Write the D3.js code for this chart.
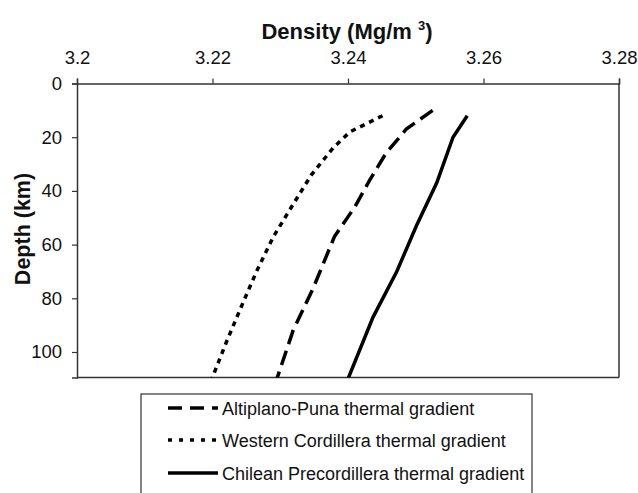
<!DOCTYPE html>
<html><head><meta charset="utf-8">
<script src="https://cdn.jsdelivr.net/npm/d3@7"></script>
<style>body{margin:0;background:#fff;}svg{display:block;font-family:"Liberation Sans",Arial,sans-serif;}</style>
</head><body>
<svg id="c" width="638" height="493"></svg>
<script>
const xTicks = [3.2, 3.22, 3.24, 3.26, 3.28];
const yTicks = [0, 20, 40, 60, 80, 100];
const seriesNames = ["Altiplano-Puna thermal gradient", "Western Cordillera thermal gradient", "Chilean Precordillera thermal gradient"];
const altiplanoDepth = [10, 17, 26, 36, 46, 57, 76, 92, 110];
const altiplanoDensity = [3.2525, 3.2486, 3.2456, 3.2432, 3.2410, 3.2380, 3.2349, 3.2319, 3.2295];
const westernDepth = [12, 18, 24, 34, 45, 57, 70, 84, 96, 110];
const westernDensity = [3.2451, 3.2403, 3.2378, 3.2346, 3.2319, 3.2290, 3.2265, 3.2241, 3.2221, 3.2199];
const chileanDepth = [12, 20, 37, 53, 70, 87, 110];
const chileanDensity = [3.2576, 3.2555, 3.2531, 3.2501, 3.2472, 3.2437, 3.2400];

const svg = d3.select("#c");
const L = 77, R = 619, T = 83.5, B = 377.5;
const x = d3.scaleLinear().domain([3.2, 3.28]).range([L, R]);
const y = d3.scaleLinear().domain([0, 109.5]).range([T, B]);

svg.append("defs").append("clipPath").attr("id","clip")
  .append("rect").attr("x", L).attr("y", T).attr("width", R-L).attr("height", B-T);

const axColor = "#333";
const xAxis = svg.append("g").attr("transform", `translate(0,${T})`)
  .call(d3.axisTop(x).tickValues(xTicks).tickFormat(d3.format("")).tickSize(5).tickPadding(15));
const yAxis = svg.append("g").attr("transform", `translate(${L},0)`)
  .call(d3.axisLeft(y).tickValues(yTicks).tickSize(5).tickPadding(10));
[xAxis, yAxis].forEach(g => {
  g.selectAll("path").attr("stroke", axColor).attr("stroke-width", 1.5);
  g.selectAll("line").attr("stroke", axColor).attr("stroke-width", 1.2);
  g.selectAll("text").attr("font-size", 18.5).attr("fill", "#111").attr("font-family", "Liberation Sans, Arial, sans-serif");
});
xAxis.selectAll("text").attr("dy", 0);
// frame right and bottom
svg.append("line").attr("x1", R).attr("x2", R).attr("y1", T).attr("y2", B).attr("stroke", axColor).attr("stroke-width", 1.5);
svg.append("line").attr("x1", L).attr("x2", R).attr("y1", B).attr("y2", B).attr("stroke", axColor).attr("stroke-width", 1.5);

// titles
const title = svg.append("text").attr("x", 347).attr("y", 39).attr("text-anchor", "middle")
  .attr("font-size", 22).attr("font-weight", "bold").attr("fill", "#111");
title.append("tspan").text("Density (Mg/m ");
title.append("tspan").text("3").attr("font-size", 13).attr("dy", -9);
title.append("tspan").text(")").attr("dy", 9);

svg.append("text").attr("transform", `translate(29.5,229) rotate(-90)`).attr("text-anchor", "middle")
  .attr("font-size", 21.5).attr("font-weight", "bold").attr("fill", "#111").text("Depth (km)");

const series = [
  {depth: altiplanoDepth, dens: altiplanoDensity, dash: "15,7"},
  {depth: westernDepth, dens: westernDensity, dash: "5,5"},
  {depth: chileanDepth, dens: chileanDensity, dash: null}
];
const line = d3.line().x(d => x(d[1])).y(d => y(d[0]));
const plot = svg.append("g").attr("clip-path", "url(#clip)");
series.forEach(s => {
  const pts = s.depth.map((d, i) => [d, s.dens[i]]);
  const p = plot.append("path").attr("d", line(pts)).attr("fill", "none")
    .attr("stroke", "#000").attr("stroke-width", 3.5);
  if (s.dash) p.attr("stroke-dasharray", s.dash);
});

// legend
const lg = svg.append("g");
lg.append("rect").attr("x", 141).attr("y", 394).attr("width", 391).attr("height", 110)
  .attr("fill", "#fff").attr("stroke", "#333").attr("stroke-width", 1.2);
const rowY = [408, 440, 473];
const legDash = ["14,8", "4,7", null];
seriesNames.forEach((name, i) => {
  const ln = lg.append("line").attr("x1", 168).attr("x2", 218).attr("y1", rowY[i]).attr("y2", rowY[i])
    .attr("stroke", "#000").attr("stroke-width", 3.5);
  if (legDash[i]) ln.attr("stroke-dasharray", legDash[i]);
  lg.append("text").attr("x", 222).attr("y", rowY[i] + 6.5).attr("font-size", 18).attr("fill", "#111").text(name);
});
</script>
</body></html>
